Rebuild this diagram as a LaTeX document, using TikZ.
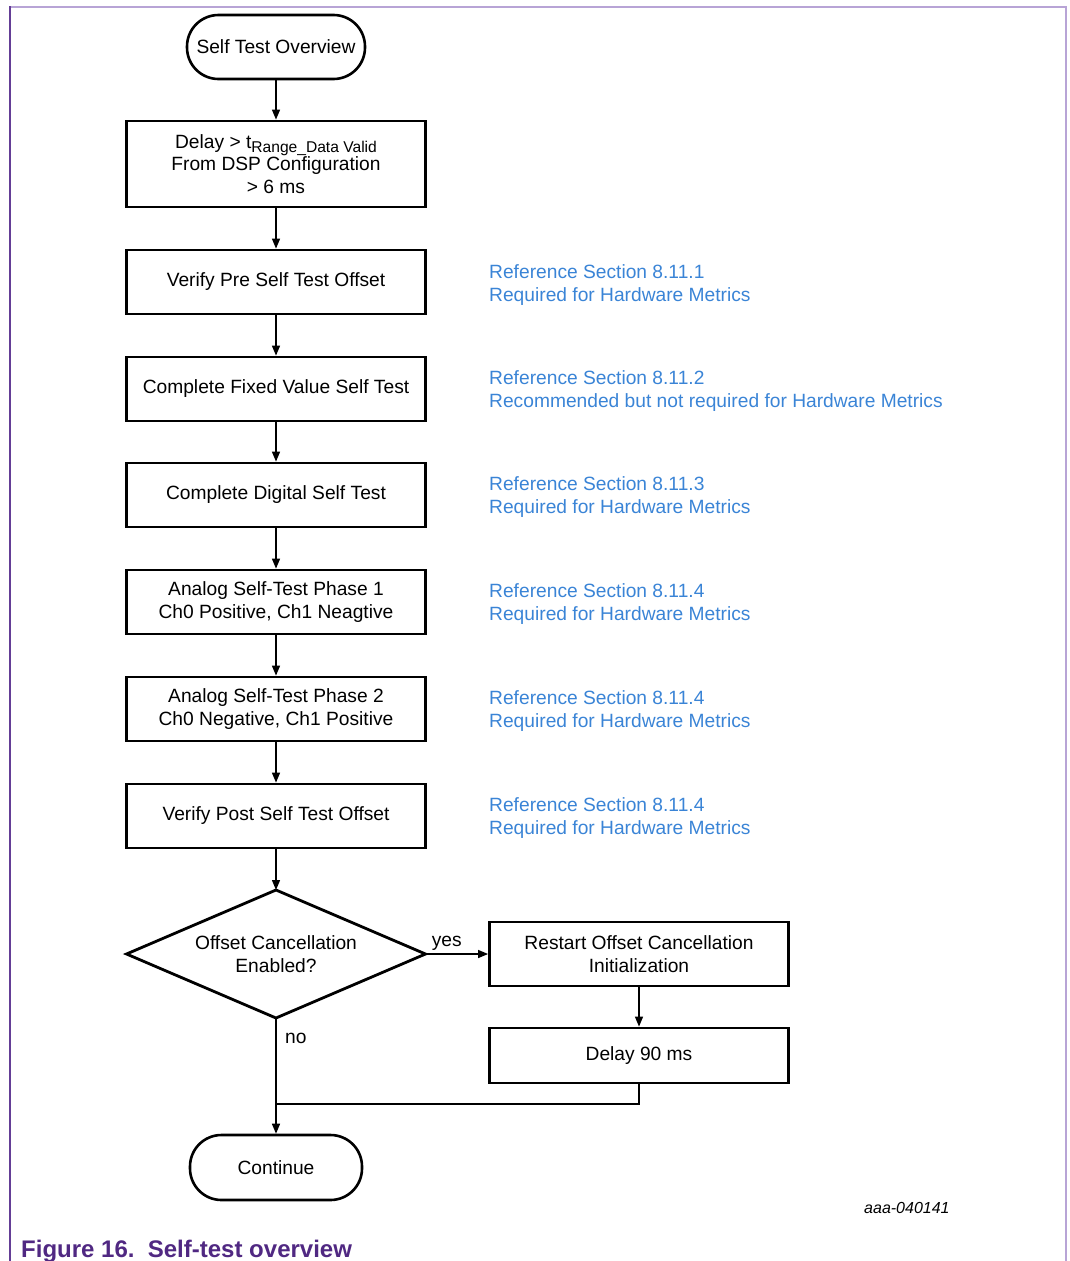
\documentclass[tikz,border=0pt]{standalone}
\usepackage{fontspec}
\setmainfont{Liberation Sans}
\usetikzlibrary{arrows.meta}
\definecolor{linkblue}{RGB}{58,132,214}
\definecolor{capurple}{RGB}{80,40,130}
\definecolor{framelav}{RGB}{184,164,214}
\definecolor{framedark}{RGB}{100,62,150}

\begin{document}
\begin{tikzpicture}[x=1pt,y=-1pt,
  every node/.style={font=\fontsize{19.2}{22.5}\selectfont},
  term/.style={draw, line width=2.6pt, rounded corners=31.5pt,
    minimum width=178pt, minimum height=64pt, inner sep=0pt},
  stepbox/.style={draw, line width=2.8pt, minimum width=299pt,
    minimum height=64pt, align=center, inner sep=0pt},
  decide/.style={minimum width=299pt, minimum height=128pt,
    align=center, inner sep=0pt, outer sep=0pt},
  note/.style={anchor=west, align=left, text=linkblue, inner sep=0pt},
  flow/.style={line width=1.4pt, -{Triangle[length=10pt,width=8pt]}},
  plain/.style={line width=1.4pt}]

\useasboundingbox (0,0) rectangle (1069,1261);

% page frame
\draw[framelav, line width=2pt] (9.5,6.5) -- (1065.5,6.5) -- (1065.5,1261);
\draw[framedark, line width=2pt] (10,6) -- (10,1261);

% main column
\node[term] (start) at (276,47) {Self Test Overview};
\node[stepbox, minimum height=86pt] (wait) at (276,164)
  {Delay > t\raisebox{-4.5pt}{\fontsize{15.6}{18}\selectfont Range\_Data Valid}\\From DSP Configuration\\> 6 ms};
\node[stepbox] (pre)   at (276,282) {Verify Pre Self Test Offset};
\node[stepbox] (fixed) at (276,389) {Complete Fixed Value Self Test};
\node[stepbox] (dig)   at (276,495) {Complete Digital Self Test};
\node[stepbox] (ph1)   at (276,602) {Analog Self-Test Phase 1\\Ch0 Positive, Ch1 Neagtive};
\node[stepbox] (ph2)   at (276,709) {Analog Self-Test Phase 2\\Ch0 Negative, Ch1 Positive};
\node[stepbox] (post)  at (276,816) {Verify Post Self Test Offset};
\node[decide]  (oc)    at (276,954) {Offset Cancellation\\Enabled?};
\draw[line width=2.8pt, line join=miter] (oc.north) -- (oc.east) -- (oc.south) -- (oc.west) -- cycle;
\node[term, minimum width=172pt, minimum height=65pt] (cont) at (276,1167.5) {Continue};

% side branch
\node[stepbox] (restart) at (639,954) {Restart Offset Cancellation\\Initialization};
\node[stepbox, minimum height=55pt] (d90) at (639,1055.5) {Delay 90 ms};

% section notes
\node[note] (n1) at (489,285) {Reference Section 8.11.1\\Required for Hardware Metrics};
\node[note] (n2) at (489,391) {Reference Section 8.11.2\\Recommended but not required for Hardware Metrics};
\node[note] (n3) at (489,497) {Reference Section 8.11.3\\Required for Hardware Metrics};
\node[note] (n4) at (489,604) {Reference Section 8.11.4\\Required for Hardware Metrics};
\node[note] (n5) at (489,711) {Reference Section 8.11.4\\Required for Hardware Metrics};
\node[note] (n6) at (489,818) {Reference Section 8.11.4\\Required for Hardware Metrics};

% connectors
\draw[flow] (start) -- (wait);
\draw[flow] (wait) -- (pre);
\draw[flow] (pre) -- (fixed);
\draw[flow] (fixed) -- (dig);
\draw[flow] (dig) -- (ph1);
\draw[flow] (ph1) -- (ph2);
\draw[flow] (ph2) -- (post);
\draw[flow] (post) -- (oc.north);
\draw[flow] (oc.east) -- node[above, inner sep=3pt, xshift=-10pt] (yes) {yes} (restart.west);
\draw[flow] (restart) -- (d90);
\draw[flow] (oc.south) -- (cont.north);
\node[anchor=west, inner sep=0pt] (no) at (285,1038) {no};
\coordinate (join) at (276,1104);
\draw[plain] (d90.south) |- (join);

% figure id and caption
\node[anchor=west, inner sep=0pt, font=\fontsize{16}{18}\selectfont\itshape] (fid) at (864,1208) {aaa-040141};
\node[anchor=base west, inner sep=0pt, text=capurple,
  font=\fontsize{24}{28}\selectfont\bfseries] (cap) at (21,1257) {Figure 16.\ \ Self-test overview};
\end{tikzpicture}
\end{document}
